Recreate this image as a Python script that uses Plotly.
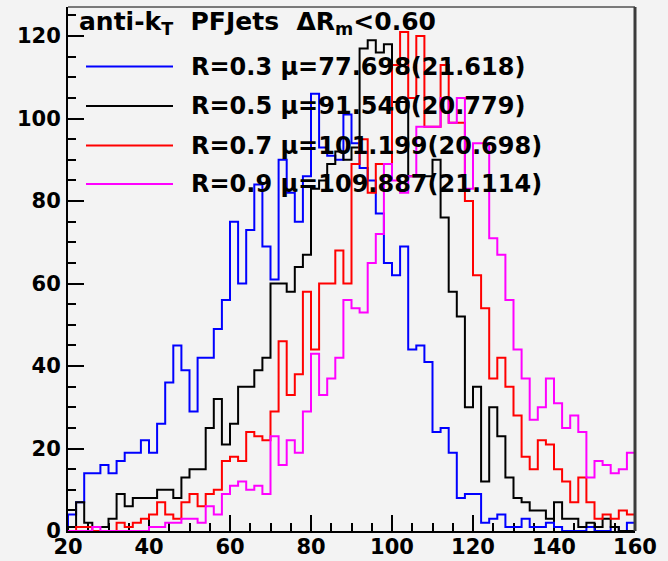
import numpy as np
import plotly.graph_objects as go

# ---------------- data (counts per 2-unit bin, 20..160) ----------------
bin_start = 20
bin_width = 2
n_bins = 70

counts_r03 = [4, 7, 14, 14, 16, 14, 17, 19, 19, 22,
              19, 26, 36, 45, 39, 29, 42, 42, 49, 56,
              75, 60, 73, 84, 69, 61, 90, 82, 75, 86,
              106, 93, 91, 90, 101, 94, 88, 85, 77, 65,
              62, 69, 44, 45, 41, 24, 25, 19, 8, 9,
              9, 2, 3, 4, 1, 1, 3, 1, 1, 2,
              1, 0, 0, 0, 1, 0, 0, 1, 0, 2]

counts_r05 = [1, 7, 2, 1, 1, 3, 9, 6, 8, 8,
              8, 10, 10, 8, 13, 15, 15, 25, 32, 21,
              26, 35, 35, 39, 42, 60, 60, 58, 64, 67,
              83, 85, 89, 92, 90, 93, 117, 119, 116, 118,
              104, 104, 86, 86, 86, 90, 76, 58, 52, 30,
              35, 12, 30, 23, 13, 8, 7, 5, 5, 3,
              7, 3, 3, 1, 2, 1, 3, 1, 0, 0]

counts_r07 = [0, 1, 1, 0, 0, 0, 2, 1, 2, 3,
              4, 7, 4, 3, 7, 9, 6, 9, 10, 17,
              18, 17, 24, 23, 22, 29, 46, 33, 38, 58,
              44, 60, 60, 68, 60, 89, 95, 82, 89, 89,
              113, 121, 105, 120, 98, 98, 113, 99, 99, 80,
              62, 54, 37, 42, 35, 28, 18, 15, 22, 21,
              15, 12, 7, 13, 7, 3, 4, 3, 5, 4]

counts_r09 = [0, 0, 0, 1, 0, 0, 0, 0, 0, 0,
              1, 1, 2, 2, 3, 3, 2, 6, 4, 9,
              11, 12, 10, 11, 9, 23, 16, 22, 19, 29,
              43, 33, 37, 42, 56, 54, 53, 65, 72, 89,
              85, 82, 86, 98, 98, 98, 105, 99, 105, 83,
              94, 94, 71, 67, 56, 44, 37, 27, 30, 37,
              31, 25, 28, 24, 13, 17, 16, 14, 15, 19]

series_counts = [counts_r03, counts_r05, counts_r07, counts_r09]
series_labels = ["R=0.3 μ=77.698(21.618)",
                 "R=0.5 μ=91.540(20.779)",
                 "R=0.7 μ=101.199(20.698)",
                 "R=0.9 μ=109.887(21.114)"]
series_colors = ["#0000ff", "#000000", "#ff0000", "#ff00ff"]
title_text = "anti-k<sub>T</sub>  PFJets  ΔR<sub>m</sub><0.60"

x_ticks = [20, 40, 60, 80, 100, 120, 140, 160]
y_ticks = [0, 20, 40, 60, 80, 100, 120]

# ---------------- figure ----------------
W, H = 668, 561
ML, MR, MT, MB = 68, 33, 7, 30
PW, PH = W - ML - MR, H - MT - MB
BG = "#f3f3f3"
FONT = "DejaVu Sans"

def px_x(px):
    return (px - ML) / PW

def px_y(py):
    return (H - MB - py) / PH

edges = bin_start + bin_width * np.arange(n_bins + 1)

fig = go.Figure()
for counts, color, label in zip(series_counts, series_colors, series_labels):
    xs = [edges[0]] + list(edges[:-1]) + [edges[-1], edges[-1]]
    ys = [0] + list(counts) + [counts[-1], 0]
    fig.add_trace(go.Scatter(x=xs, y=ys, mode="lines", line_shape="hv",
                             line=dict(color=color, width=2),
                             name=label, showlegend=False, hoverinfo="skip"))

y_max = 1.05 * max(max(c) for c in series_counts)

tickfont = dict(family=FONT, size=21, color="black", weight="bold")
common = dict(ticks="inside", ticklen=16, tickwidth=2, tickcolor="black",
              minor=dict(ticks="inside", ticklen=8, tickwidth=2,
                         tickcolor="black", dtick=5, tick0=0, showgrid=False),
              showgrid=False, zeroline=False, showline=True, linewidth=2,
              linecolor="black", tickfont=tickfont, layer="below traces",
              automargin=False)
fig.update_xaxes(range=[edges[0], edges[-1]], tickvals=x_ticks,
                 ticklabelstandoff=-4, **common)
fig.update_yaxes(range=[0, y_max], tickvals=y_ticks,
                 ticklabelstandoff=1, **common)

shapes = [
    dict(type="line", xref="paper", yref="paper", x0=0, x1=1, y0=1, y1=1,
         line=dict(color="black", width=1)),
    dict(type="line", xref="paper", yref="paper", x0=1, x1=1, y0=0, y1=1,
         line=dict(color="#3a3a3a", width=3)),
]
annotations = [
    dict(xref="paper", yref="paper", x=px_x(77), y=px_y(23), text=title_text,
         showarrow=False, xanchor="left", yanchor="middle",
         font=dict(family=FONT, size=25, color="black", weight="bold")),
]
row_y = [66.5, 106, 145.5, 184]
for ry, color, label in zip(row_y, series_colors, series_labels):
    shapes.append(dict(type="line", xref="paper", yref="paper",
                       x0=px_x(86), x1=px_x(173), y0=px_y(ry), y1=px_y(ry),
                       line=dict(color=color, width=2)))
    annotations.append(dict(xref="paper", yref="paper", x=px_x(189), y=px_y(ry),
                            text=label, showarrow=False, xanchor="left",
                            yanchor="middle",
                            font=dict(family=FONT, size=24, color="black",
                                      weight="bold")))

fig.update_layout(width=W, height=H, autosize=False,
                  margin=dict(l=ML, r=MR, t=MT, b=MB, pad=0),
                  paper_bgcolor=BG, plot_bgcolor=BG,
                  shapes=shapes, annotations=annotations, showlegend=False)

fig.write_html("out.html",
               config={"displayModeBar": False, "staticPlot": True},
               post_script="document.body.style.margin='0';"
                           "document.body.style.overflow='hidden';"
                           "document.body.style.background='" + BG + "';")
